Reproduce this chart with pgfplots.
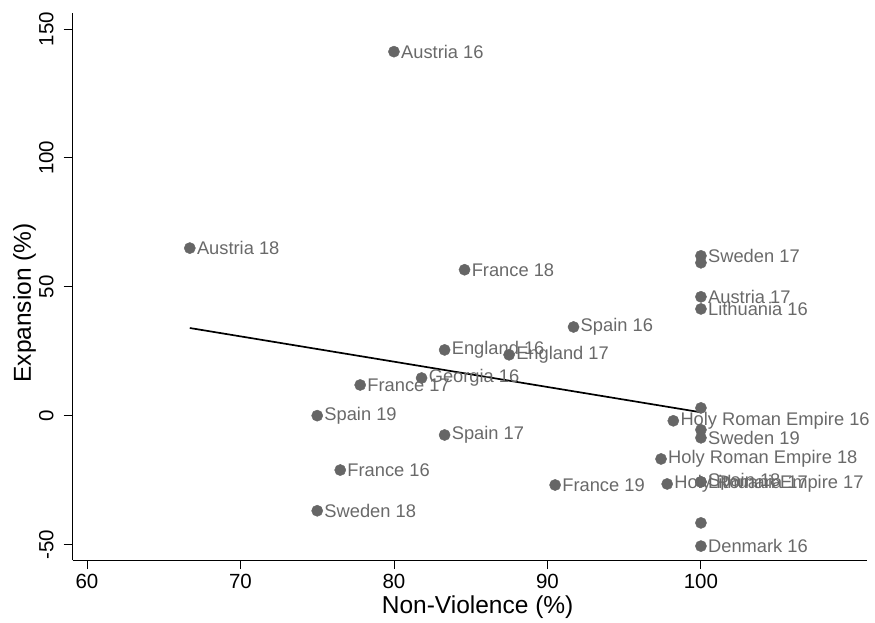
\documentclass[border=0pt]{standalone}
\usepackage{pgfplots}
\usepackage{pgfplotstable}
\pgfplotsset{compat=1.18}
\usepackage{fontspec}
\setmainfont{Liberation Sans}

\definecolor{markgray}{RGB}{102,102,102}
\definecolor{labelgray}{RGB}{105,105,105}

% Non-violence share vs. territorial expansion, by country and century
\pgfplotstableread[col sep=comma]{
x,y,label
80.0,141.2,Austria 16
66.7,65.0,Austria 18
84.6,56.6,France 18
100,62.0,Sweden 17
100,59.3,{}
100,46.1,Austria 17
100,41.4,Lithuania 16
91.7,34.4,Spain 16
83.3,25.5,England 16
87.5,23.6,England 17
81.8,14.6,Georgia 16
77.8,11.9,France 17
100,3.0,{}
75.0,0.0,Spain 19
98.2,-2.0,Holy Roman Empire 16
100,-5.5,{}
100,-8.6,Sweden 19
83.3,-7.5,Spain 17
97.4,-16.8,Holy Roman Empire 18
76.5,-21.1,France 16
100,-25.7,Lithuania 17
100,-25.7,Spain 18
97.8,-26.5,Holy Roman Empire 17
90.5,-26.9,France 19
75.0,-36.9,Sweden 18
100,-41.6,{}
100,-50.6,Denmark 16
}\pointsdata

\begin{document}
\begin{tikzpicture}
\useasboundingbox (-72.7pt,-62pt) rectangle (802.3pt,560pt);
\begin{axis}[
  at={(0,0)}, anchor=south west,
  scale only axis,
  width=794pt, height=547pt,
  xmin=59.07, xmax=110.8,
  ymin=-56.0, ymax=156.2,
  axis x line=bottom, axis y line=left,
  axis line style={-, line width=0.9pt},
  xtick={60,70,80,90,100},
  ytick={-50,0,50,100,150},
  tick align=outside,
  major tick length=9pt,
  tick style={black, line width=0.9pt},
  /pgf/number format/assume math mode=true,
  ticklabel style={font=\fontsize{20.5}{24}\selectfont},
  xticklabel style={inner sep=0pt, yshift=-5pt},
  yticklabel style={rotate=90, anchor=south, inner xsep=0pt, inner ysep=10pt},
  xlabel={Non-Violence (\%)},
  ylabel={Expansion (\%)},
  label style={font=\fontsize{24.5}{28}\selectfont},
  xlabel style={at={(axis description cs:0.51,0)}, anchor=center, yshift=-47pt},
  ylabel style={at={(axis description cs:-0.0605,0.47)}, anchor=center},
  clip=false,
]
\addplot[only marks, mark=*, mark size=5.6pt,
  mark options={fill=markgray, draw=markgray},
  point meta=explicit symbolic,
  nodes near coords,
  every node near coord/.style={anchor=west, inner sep=0pt, xshift=7pt,
    text=labelgray, font=\fontsize{18.3}{20}\selectfont},
] table[x=x, y=y, meta=label] {\pointsdata};
% fitted linear trend
\addplot[black, line width=1.7pt] coordinates {(66.7,34.0) (100,1.3)};
\end{axis}
\end{tikzpicture}
\end{document}
